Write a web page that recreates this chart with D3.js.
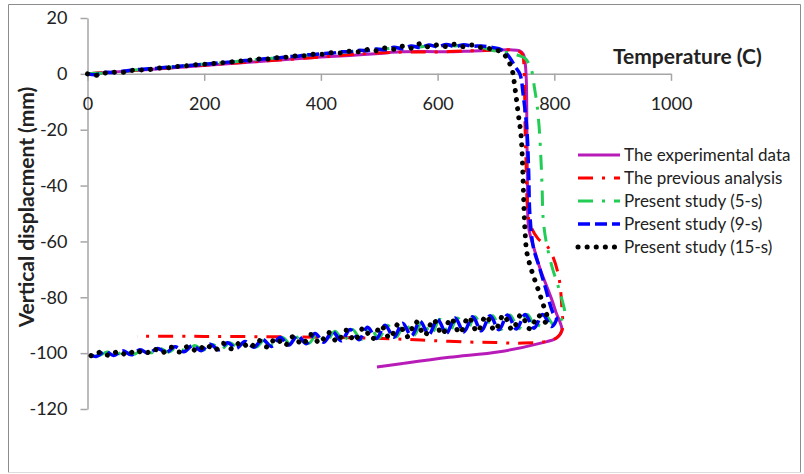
<!DOCTYPE html>
<html>
<head>
<meta charset="utf-8">
<script src="https://d3js.org/d3.v7.min.js"></script>
<style>
    body { margin: 0; background: #fff; }
    svg text { font-family: Lato, 'Liberation Sans', sans-serif; fill: #222; }
</style>
</head>
<body>
<div class="chart"></div>
<script>
/**
 * Vertical displacement vs temperature, experiment vs models
 */

/** tick labels */
let x_ticks = [0, 200, 400, 600, 800, 1000];
let y_ticks = [20, 0, -20, -40, -60, -80, -100, -120];

let series_names = ["The experimental data", "The previous analysis", "Present study (5-s)", "Present study (9-s)", "Present study (15-s)"];

/** [temperature, displacement], in drawing order */
let exp_data = [[0,0],[100,1.5],[200,3.0],[300,4.5],[364,5.5],[400,6.0],[450,6.6],[500,7.3],[536,7.9],[580,8.0],[621,7.9],[660,8.2],[700,8.5],[724,8.6],[740,8.3],[747,7],[750,4],[752,-2],[753,-20],[754,-40],[756,-55],[766,-63],[776,-70],[786,-75.5],[796,-81],[804,-86],[810,-89],[813,-91.8],[804,-94.6],[775,-96.5],[706,-99.5],[620,-101.5],[540,-103.7],[496,-105]];

let prev_data = [[0,0],[100,1.5],[200,3.1],[300,4.6],[400,6.0],[478,7.3],[540,7.8],[592,7.8],[650,8.2],[700,8.5],[735,8.4],[745,7],[748,3],[749,-5],[750,-20],[752,-35],[754,-48],[758,-53.5],[772,-59],[789,-62],[806,-71],[813,-84],[813,-92],[800,-95],[746,-96.4],[700,-96.2],[650,-96],[592,-95.5],[540,-95],[450,-94.5],[350,-94.2],[200,-94],[85,-94]];

let s5_rise = [[0,0],[15,0.2],[30,0.3],[45,0.7],[60,0.8],[75,1.2],[90,1.5],[105,1.7],[120,2.0],[135,2.3],[150,2.6],[165,2.8],[180,3.1],[195,3.4],[210,3.6],[225,3.9],[240,4.2],[255,4.4],[270,4.8],[285,5.0],[300,5.3],[315,5.6],[330,5.8],[345,6.2],[360,6.4],[375,6.7],[390,7.0],[405,7.2],[420,7.5],[435,7.8],[450,8.0],[465,8.3],[480,8.5],[495,8.8],[510,8.9],[525,9.3],[540,9.3],[555,9.8],[570,9.6],[585,10.2],[600,9.9],[615,10.4],[630,10.0],[645,10.5],[660,10.1],[675,9.6],[690,8.6],[705,8.0],[725,7.5],[740,6.5],[750,5.5],[757,3.5],[762,0.5],[766,-5],[770,-10.4],[774,-19],[777,-30],[779,-40],[781,-52],[786,-60],[796,-69],[808,-77],[818,-85],[819,-87]];
let s5_return = [[0,-100.1],[19,-100.9],[34,-99.6],[49,-100.7],[64,-99.0],[79,-100.5],[94,-98.8],[109,-99.9],[124,-98.3],[139,-99.6],[154,-97.8],[169,-99.3],[184,-97.3],[199,-98.9],[214,-96.9],[229,-98.6],[244,-96.3],[259,-98.2],[274,-95.8],[289,-97.8],[304,-95.1],[319,-97.5],[334,-94.4],[349,-97.0],[364,-93.7],[379,-96.5],[394,-93.0],[409,-96.0],[424,-92.2],[439,-95.5],[454,-91.5],[469,-95.1],[484,-90.7],[499,-94.7],[514,-90.0],[529,-94.2],[544,-89.3],[559,-93.7],[574,-88.6],[589,-93.2],[604,-87.9],[619,-92.8],[634,-87.4],[649,-92.3],[664,-87.0],[679,-91.9],[694,-86.6],[709,-91.5],[724,-86.3],[739,-91.3],[754,-86.2],[769,-91.0],[784,-86.3],[800,-90.0],[812,-88.0]];

let s9_rise = [[0,0],[15,-0.3],[30,0.5],[45,0.5],[60,0.9],[75,1.3],[90,1.6],[105,1.8],[120,2.0],[135,2.4],[150,2.5],[165,2.9],[180,3.1],[195,3.4],[210,3.6],[225,3.9],[240,4.2],[255,4.4],[270,4.8],[285,5.0],[300,5.3],[315,5.6],[330,5.8],[345,6.2],[360,6.3],[375,6.8],[390,6.9],[405,7.3],[420,7.4],[435,7.9],[450,7.9],[465,8.4],[480,8.3],[495,8.9],[510,8.6],[525,9.5],[540,9.0],[555,10.0],[570,9.4],[585,10.3],[600,9.7],[615,10.5],[630,9.8],[645,10.4],[660,9.9],[675,10.0],[690,9.6],[705,9.0],[715,7.8],[724,5.7],[733,2.5],[741,0],[747,-8],[753,-20],[756,-35],[758,-50],[764,-62],[774,-69],[784,-76],[798,-85.7],[804,-87.5]];
let s9_return = [[0,-100.0],[15,-101.2],[30,-99.4],[45,-100.8],[60,-99.1],[75,-100.6],[90,-98.8],[105,-100.1],[120,-98.3],[135,-99.7],[150,-97.7],[165,-99.5],[180,-97.3],[195,-99.1],[210,-96.8],[225,-98.8],[240,-96.3],[255,-98.3],[270,-95.8],[285,-97.9],[300,-95.1],[315,-97.6],[330,-94.4],[345,-97.1],[360,-93.7],[375,-96.6],[390,-93.0],[405,-96.1],[420,-92.3],[435,-95.6],[450,-91.5],[465,-95.2],[480,-90.7],[495,-94.8],[510,-90.0],[525,-94.3],[540,-89.3],[555,-93.8],[570,-88.6],[585,-93.3],[600,-87.9],[615,-92.9],[630,-87.4],[645,-92.4],[660,-87.0],[675,-92.0],[690,-86.6],[705,-91.6],[720,-86.3],[735,-91.4],[750,-86.2],[765,-91.1],[780,-86.2],[795,-90.5]];

let s15_rise = [[0,0],[15,-0.5],[30,0.3],[45,0.6],[60,0.5],[75,1.2],[90,1.4],[105,1.5],[120,2.1],[135,2.1],[150,2.6],[165,2.8],[180,3.2],[195,3.4],[210,3.5],[225,4.0],[240,4.0],[255,4.6],[270,4.6],[285,5.2],[300,5.4],[315,5.3],[330,6.0],[345,6.0],[360,6.5],[375,6.5],[390,7.1],[405,7.0],[420,7.6],[435,7.5],[450,8.1],[465,7.9],[480,8.7],[495,8.3],[510,9.3],[525,8.8],[540,9.9],[555,9.2],[570,10.8],[585,9.6],[600,10.4],[615,9.8],[630,10.6],[645,9.7],[660,10.3],[675,9.4],[690,9.0],[700,8.6],[712,7.5],[720,5],[727,2],[733,-5.7],[738,-14],[743,-22],[746,-35],[748,-48],[750,-57],[753,-64],[762,-71],[772,-77],[784,-84.6],[789,-88]];
let s15_return = [[0,-100.0],[8,-101.0],[23,-99.6],[38,-100.9],[53,-99.3],[68,-100.7],[83,-98.9],[98,-100.3],[113,-98.5],[128,-99.9],[143,-97.9],[158,-99.6],[173,-97.5],[188,-99.3],[203,-97.0],[218,-99.0],[233,-96.5],[248,-98.5],[263,-96.0],[278,-98.1],[293,-95.4],[308,-97.8],[323,-94.7],[338,-97.3],[353,-94.0],[368,-96.9],[383,-93.3],[398,-96.4],[413,-92.6],[428,-95.9],[443,-91.8],[458,-95.5],[473,-91.0],[488,-95.0],[503,-90.2],[518,-94.6],[533,-89.5],[548,-94.1],[563,-88.8],[578,-93.6],[593,-88.1],[608,-93.2],[623,-87.6],[638,-92.8],[653,-87.1],[668,-92.3],[683,-86.7],[698,-91.9],[713,-86.4],[728,-91.6],[743,-86.3],[758,-91.3],[773,-86.5],[783,-89.0]];

/** Set up canvas */
let width = 804, height = 474;
let svg = d3.select('.chart').append('svg')
    .attr('width', width)
    .attr('height', height);

/** chart frame */
svg.append('path')
    .attr('d', 'M8.5,472.5 V4.5 H800.5 V472.5')
    .attr('fill', 'none')
    .attr('stroke', '#8c8c8c');
svg.append('line')
    .attr('x1', 8.5).attr('x2', 800.5).attr('y1', 472.5).attr('y2', 472.5)
    .attr('stroke', '#dcdcdc');

/** scales and axes */
let xScale = d3.scaleLinear().domain([0, 1000]).range([87.5, 671]);
let yScale = d3.scaleLinear().domain([-120, 20]).range([409, 18]);

// plain hyphen minus and no thousands comma, like the original
let tick_fmt = function (d) { return String(d); };

let xAxis = d3.axisBottom(xScale).tickValues(x_ticks).tickFormat(tick_fmt).tickSize(7).tickSizeOuter(0).tickPadding(16);
let yAxis = d3.axisLeft(yScale).tickValues(y_ticks).tickFormat(tick_fmt).tickSize(7).tickSizeOuter(0).tickPadding(13);

let gy = svg.append('g')
    .attr('transform', `translate(${xScale(0)}, 0)`)
    .call(yAxis);
let gx = svg.append('g')
    .attr('transform', `translate(0, ${yScale(0)})`)
    .call(xAxis);

[gx, gy].forEach(function (g) {
    g.select('.domain').attr('stroke', '#a6a6a6').attr('stroke-width', 1.5);
    g.selectAll('.tick line').attr('stroke', '#a6a6a6').attr('stroke-width', 1.5);
    g.selectAll('.tick text')
        .style('font-family', 'Lato, sans-serif')
        .style('font-size', '18px')
        .attr('fill', '#333');
});

/** axis titles */
svg.append('text')
    .attr('x', 613)
    .attr('y', 64)
    .style('font-weight', 'bold')
    .style('font-size', '21px')
    .text('Temperature (C)');

svg.append('text')
    .attr('transform', 'translate(34, 207) rotate(-90)')
    .attr('text-anchor', 'middle')
    .style('font-weight', 'bold')
    .style('font-size', '21px')
    .text('Vertical displacment (mm)');

/** series */
let series_data = [
    exp_data,
    prev_data,
    s5_rise.concat(s5_return.slice().reverse()),
    s9_rise.concat(s9_return.slice().reverse()),
    s15_rise.concat(s15_return.slice().reverse())
];
let series_color = ['#b81cb8', '#ff0000', '#22cc55', '#0000ff', '#000000'];
let series_dash = [null, '15 9 3 9', '15 9 3 9', '12 5', '0.1 9'];
let series_width = [3, 3, 3, 3.5, 5];
let series_cap = ['butt', 'butt', 'butt', 'butt', 'round'];

let line = d3.line()
    .x(function (d) { return xScale(d[0]); })
    .y(function (d) { return yScale(d[1]); })
    .curve(d3.curveCatmullRom.alpha(0.5));

series_data.forEach(function (data, i) {
    svg.append('path')
        .datum(data)
        .attr('d', line)
        .attr('fill', 'none')
        .attr('stroke', series_color[i])
        .attr('stroke-width', series_width[i])
        .attr('stroke-dasharray', series_dash[i])
        .attr('stroke-linecap', series_cap[i])
        .attr('stroke-linejoin', 'round');
});

/** legend */
let legend = svg.append('g').attr('transform', 'translate(578, 155)');
series_names.forEach(function (name, i) {
    let row = legend.append('g').attr('transform', `translate(0, ${i * 23})`);
    row.append('line')
        .attr('x1', 0).attr('x2', 42)
        .attr('stroke', series_color[i])
        .attr('stroke-width', series_width[i])
        .attr('stroke-dasharray', series_dash[i])
        .attr('stroke-linecap', series_cap[i]);
    row.append('text')
        .attr('x', 46)
        .attr('y', 6)
        .style('font-size', '17px')
        .attr('fill', '#333')
        .text(name);
});
</script>
</body>
</html>
